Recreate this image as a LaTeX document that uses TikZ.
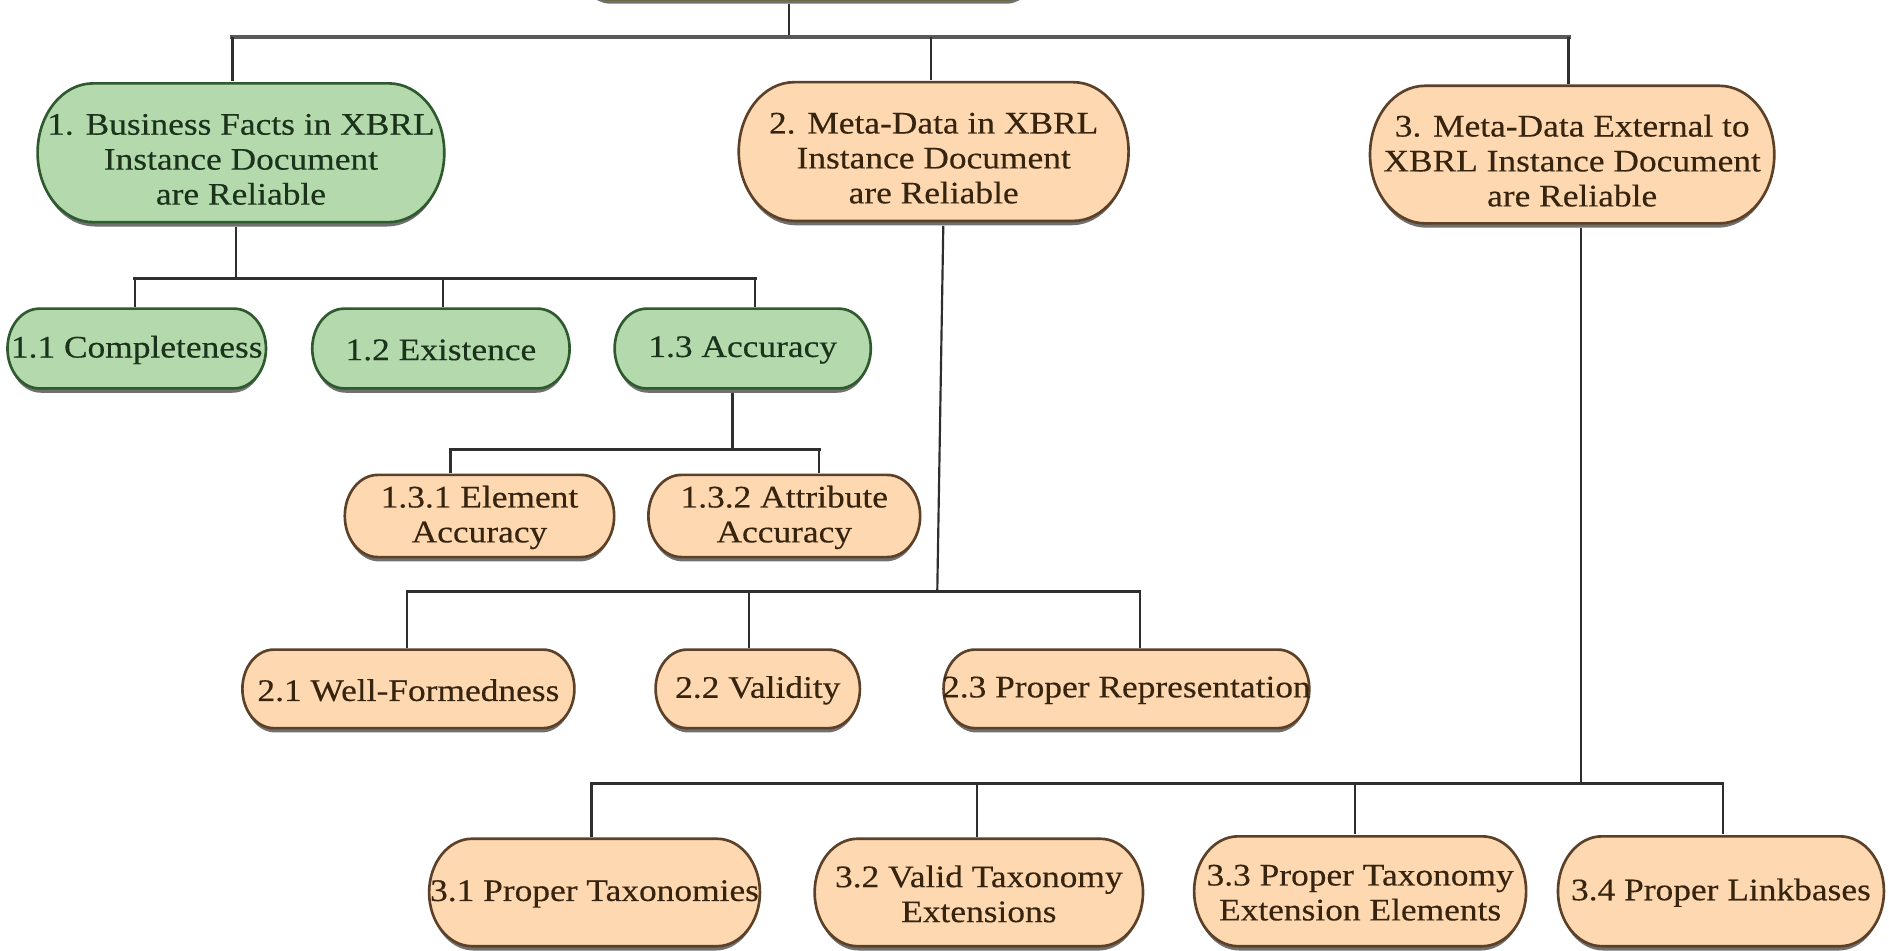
\documentclass[tikz,border=0pt]{standalone}
\usepackage{fontspec}
\setmainfont{Liberation Serif}[FakeStretch=1.13, FakeBold=0.35]
\usetikzlibrary{calc}
\definecolor{gfill}{HTML}{B3D9AD}
\definecolor{gline}{HTML}{2F5A2F}
\definecolor{gtext}{HTML}{1A331A}
\definecolor{ofill}{HTML}{FDD8B1}
\definecolor{oline}{HTML}{5C4128}
\definecolor{otext}{HTML}{36240F}
\definecolor{yfill}{HTML}{DDDD66}
\definecolor{yline}{HTML}{66662A}
\definecolor{conncol}{HTML}{2E2E2E}
\definecolor{shadowcol}{HTML}{707070}
\newcommand{\threelines}[3]{\raisebox{-3.5pt}[\height][\depth]{\begin{tabular}{@{}c@{}}#1\\#2\\#3\end{tabular}}}
\tikzset{
  stad/.style n args={4}{rectangle, draw=none, inner sep=0pt,
    minimum width=#1*0.5pt, minimum height=#2*0.5pt, align=center,
    font=\fontsize{13}{14.5}\selectfont,
    path picture={
      \fill[shadowcol]
      let \p1=(path picture bounding box.south west),
          \p2=(path picture bounding box.north east),
          \n1={(\y2-\y1)/2-1.2pt}, \n2={0.8*\n1} in
      (\x1+\n2*1pt+1.2pt,\y1) -- (\x2-\n2*1pt-1.2pt,\y1)
      arc[start angle=-90,end angle=90,x radius=\n2*1pt,y radius=\n1*1pt]
      -- (\x1+\n2*1pt+1.2pt,\y2-2.4pt)
      arc[start angle=90,end angle=270,x radius=\n2*1pt,y radius=\n1*1pt]
      -- cycle;
      \draw[line width=1.1pt, draw=#4, fill=#3]
      let \p1=(path picture bounding box.south west),
          \p2=(path picture bounding box.north east),
          \n1={(\y2-\y1)/2-1.2pt}, \n2={0.8*\n1} in
      (\x1+\n2*1pt+0.6pt,\y1+1.8pt) -- (\x2-\n2*1pt-0.6pt,\y1+1.8pt)
      arc[start angle=-90,end angle=90,x radius=\n2*1pt,y radius=\n1*1pt]
      -- (\x1+\n2*1pt+0.6pt,\y2-0.6pt)
      arc[start angle=90,end angle=270,x radius=\n2*1pt,y radius=\n1*1pt]
      -- cycle;}},
  gnode/.style 2 args={stad={#1}{#2}{gfill}{gline}, text=gtext},
  onode/.style 2 args={stad={#1}{#2}{ofill}{oline}, text=otext},
  stem/.style={draw=conncol, line width=0.9pt},
  bar/.style={draw=conncol, line width=1.2pt, line cap=rect},
  topbar/.style={draw=conncol!80, line width=1.7pt, line cap=rect},
}
\begin{document}
\begin{tikzpicture}[x=0.5pt,y=-0.5pt]
\useasboundingbox (0,0) rectangle (1568,789);
\clip (0,0) rectangle (1568,789);

\node[stad={382}{64}{yfill}{yline}] (top) at (671,-29) {};

\node[gnode={340}{120}] (n1) at (200,128) {\threelines{1. Business Facts in XBRL}{Instance Document}{are Reliable}};
\node[onode={326}{120}] (n2) at (775,127) {\threelines{2. Meta-Data in XBRL}{Instance Document}{are Reliable}};
\node[onode={338}{119}] (n3) at (1305,129.5) {\threelines{3. Meta-Data External to}{XBRL Instance Document}{are Reliable}};

\node[gnode={217}{71}] (n11) at (113.5,290.5) {1.1 Completeness};
\node[gnode={216}{71}] (n12) at (366,290.5) {1.2 Existence};
\node[gnode={215}{71}] (n13) at (616.5,290.5) {1.3 Accuracy};

\node[onode={226}{73}] (n131) at (398,429.5) {1.3.1 Element\\Accuracy};
\node[onode={228}{73}] (n132) at (651,429.5) {1.3.2 Attribute\\Accuracy};

\node[onode={278}{70}] (n21) at (339,573) {2.1 Well-Formedness};
\node[onode={172}{70}] (n22) at (629,573) {2.2 Validity};
\node[onode={306}{70}] (n23) at (935,573) {2.3 Proper Representation};

\node[onode={277}{94}] (n31) at (493.5,742) {3.1 Proper Taxonomies};
\node[onode={275}{94}] (n32) at (812.5,742) {3.2 Valid Taxonomy\\Extensions};
\node[onode={278}{96}] (n33) at (1129,741) {3.3 Proper Taxonomy\\Extension Elements};
\node[onode={273}{96}] (n34) at (1428.5,741) {3.4 Proper Linkbases};

\coordinate (b0) at (0,31);
\coordinate (b1) at (0,231);
\coordinate (b13) at (0,373);
\coordinate (b2) at (0,491);
\coordinate (b3) at (0,650);

% level 0
\draw[stem] ([xshift=-8pt]top.south) -- ([xshift=-8pt]top.south |- b0);
\draw[topbar] ([xshift=-3.5pt]n1.north |- b0) -- ([xshift=-1.5pt]n3.north |- b0);
\draw[stem] ([xshift=-3.5pt]n1.north) -- ([xshift=-3.5pt]n1.north |- b0);
\draw[stem] ([xshift=-1pt]n2.north) -- ([xshift=-1pt]n2.north |- b0);
\draw[stem] ([xshift=-1.5pt]n3.north) -- ([xshift=-1.5pt]n3.north |- b0);

% branch 1
\draw[stem] ([xshift=-2pt]n1.south) -- ([xshift=-2pt]n1.south |- b1);
\draw[bar] ([xshift=-0.75pt]n11.north |- b1) -- ([xshift=5.25pt]n13.north |- b1);
\draw[stem] ([xshift=-0.75pt]n11.north) -- ([xshift=-0.75pt]n11.north |- b1);
\draw[stem] ([xshift=1pt]n12.north) -- ([xshift=1pt]n12.north |- b1);
\draw[stem] ([xshift=5.25pt]n13.north) -- ([xshift=5.25pt]n13.north |- b1);

% branch 1.3
\draw[stem] ([xshift=-4.25pt]n13.south) -- ([xshift=-4.25pt]n13.south |- b13);
\draw[bar] ([xshift=-12pt]n131.north |- b13) -- ([xshift=14.5pt]n132.north |- b13);
\draw[stem] ([xshift=-12pt]n131.north) -- ([xshift=-12pt]n131.north |- b13);
\draw[stem] ([xshift=14.5pt]n132.north) -- ([xshift=14.5pt]n132.north |- b13);

% branch 2
\draw[stem] ([xshift=4pt]n2.south) -- ([xshift=1.5pt]n2.south |- b2);
\draw[bar] ([xshift=-0.5pt]n21.north |- b2) -- ([xshift=5.5pt]n23.north |- b2);
\draw[stem] ([xshift=-0.5pt]n21.north) -- ([xshift=-0.5pt]n21.north |- b2);
\draw[stem] ([xshift=-3.5pt]n22.north) -- ([xshift=-3.5pt]n22.north |- b2);
\draw[stem] ([xshift=5.5pt]n23.north) -- ([xshift=5.5pt]n23.north |- b2);

% branch 3
\draw[stem] ([xshift=3.5pt]n3.south) -- ([xshift=3.5pt]n3.south |- b3);
\draw[bar] ([xshift=-1.25pt]n31.north |- b3) -- ([xshift=0.75pt]n34.north |- b3);
\draw[stem] ([xshift=-1.25pt]n31.north) -- ([xshift=-1.25pt]n31.north |- b3);
\draw[stem] ([xshift=-0.75pt]n32.north) -- ([xshift=-0.75pt]n32.north |- b3);
\draw[stem] ([xshift=-2pt]n33.north) -- ([xshift=-2pt]n33.north |- b3);
\draw[stem] ([xshift=0.75pt]n34.north) -- ([xshift=0.75pt]n34.north |- b3);
\end{tikzpicture}
\end{document}
